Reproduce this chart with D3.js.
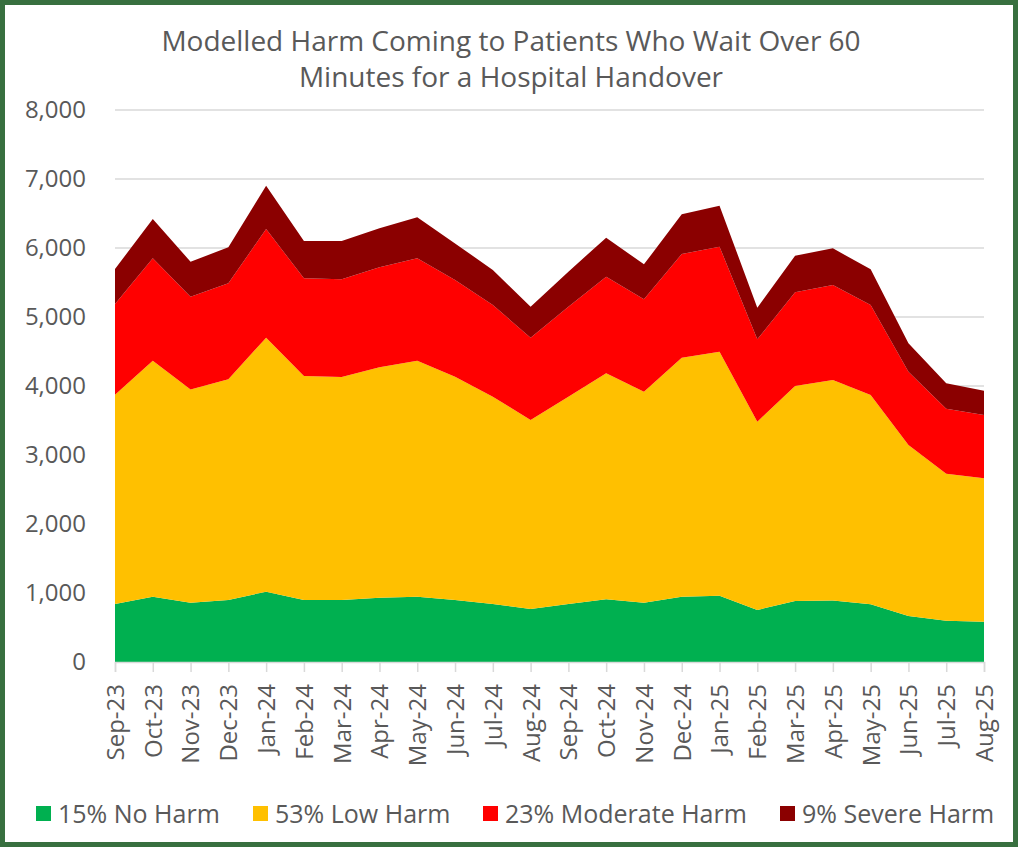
<!DOCTYPE html>
<html>
<head>
<meta charset="utf-8">
<script src="https://cdn.jsdelivr.net/npm/d3@7"></script>
<style>
  html, body { margin: 0; padding: 0; background: #ffffff; }
  svg { display: block; }
  text { font-family: "Open Sans", "Noto Sans", sans-serif; fill: #595959; }
</style>
</head>
<body>
<svg id="chart" width="1022" height="848"></svg>
<script>
// Months on the x axis
const months = ["Sep-23","Oct-23","Nov-23","Dec-23","Jan-24","Feb-24","Mar-24","Apr-24","May-24","Jun-24","Jul-24","Aug-24",
                "Sep-24","Oct-24","Nov-24","Dec-24","Jan-25","Feb-25","Mar-25","Apr-25","May-25","Jun-25","Jul-25","Aug-25"];

// Modelled patients per harm category
const noHarm       = [841, 946, 859, 899, 1019, 899, 899, 932, 946, 899, 841, 768, 841, 908, 859, 946, 961, 754, 884, 893, 836, 667, 599, 584];
const lowHarm      = [3033, 3421, 3092, 3198, 3681, 3246, 3231, 3339, 3421, 3236, 3004, 2739, 3004, 3275, 3058, 3465, 3536, 2729, 3116, 3194, 3034, 2478, 2131, 2078];
const moderateHarm = [1314, 1483, 1344, 1391, 1575, 1415, 1416, 1449, 1483, 1401, 1329, 1193, 1305, 1402, 1339, 1502, 1522, 1193, 1358, 1377, 1304, 1063, 941, 918];
const severeHarm   = [508, 570, 506, 522, 628, 541, 555, 565, 595, 531, 507, 450, 507, 565, 507, 575, 594, 459, 531, 531, 517, 410, 368, 352];

const seriesNames  = ["15% No Harm", "53% Low Harm", "23% Moderate Harm", "9% Severe Harm"];
const seriesColors = ["#00B050", "#FFC000", "#FF0000", "#8B0000"];
const yTicks = [0, 1000, 2000, 3000, 4000, 5000, 6000, 7000, 8000];

const rows = months.map((m, i) => ({
  month: m,
  s0: noHarm[i], s1: lowHarm[i], s2: moderateHarm[i], s3: severeHarm[i]
}));

const svg = d3.select("#chart");
const plot = { left: 115, right: 984, top: 110, bottom: 662 };

// Outer frame
svg.append("rect")
  .attr("x", 2.5).attr("y", 2.5)
  .attr("width", 1013).attr("height", 842)
  .attr("fill", "#ffffff")
  .attr("stroke", "#38703F").attr("stroke-width", 5);

// Title
const title = svg.append("text")
  .attr("text-anchor", "middle")
  .attr("font-size", 28);
title.append("tspan").attr("x", 511).attr("y", 51).text("Modelled Harm Coming to Patients Who Wait Over 60");
title.append("tspan").attr("x", 511).attr("y", 87).text("Minutes for a Hospital Handover");

const x = d3.scalePoint().domain(months).range([plot.left, plot.right]);
const y = d3.scaleLinear().domain([0, 8000]).range([plot.bottom, plot.top]);

// Gridlines
svg.append("g")
  .selectAll("line")
  .data(yTicks.filter(t => t > 0))
  .join("line")
  .attr("x1", plot.left).attr("x2", plot.right)
  .attr("y1", d => y(d)).attr("y2", d => y(d))
  .attr("stroke", "#d9d9d9").attr("stroke-width", 1.5);

// Stacked areas
const keys = ["s0", "s1", "s2", "s3"];
const stacked = d3.stack().keys(keys)(rows);
const area = d3.area()
  .x(d => x(d.data.month))
  .y0(d => y(d[0]))
  .y1(d => y(d[1]));

svg.append("g")
  .selectAll("path")
  .data(stacked)
  .join("path")
  .attr("d", area)
  .attr("fill", (d, i) => seriesColors[i]);

// Y axis
const yAxis = d3.axisLeft(y)
  .tickValues(yTicks)
  .tickFormat(d3.format(","))
  .tickSize(0)
  .tickPadding(0);
const yg = svg.append("g")
  .attr("transform", `translate(${plot.left - 29},0)`)
  .call(yAxis);
yg.select(".domain").remove();
yg.selectAll("text")
  .attr("font-size", 24)
  .attr("fill", "#595959")
  .attr("font-family", "'Open Sans', sans-serif");

// X axis
const xAxis = d3.axisBottom(x).tickSize(10).tickPadding(6);
const xg = svg.append("g")
  .attr("transform", `translate(0,${plot.bottom})`)
  .call(xAxis);
xg.select(".domain").attr("stroke", "#d9d9d9").attr("stroke-width", 1.5);
xg.selectAll(".tick line").attr("stroke", "#d9d9d9").attr("stroke-width", 1.5);
xg.selectAll("text")
  .attr("font-size", 24)
  .attr("fill", "#595959")
  .attr("font-family", "'Open Sans', sans-serif")
  .attr("transform", "rotate(-90)")
  .attr("text-anchor", "end")
  .attr("x", -22)
  .attr("y", 0)
  .attr("dy", "0.35em");

// Legend
const legendX = [36, 253, 483, 780];
const lg = svg.append("g");
seriesNames.forEach((name, i) => {
  lg.append("rect")
    .attr("x", legendX[i]).attr("y", 806)
    .attr("width", 15).attr("height", 15)
    .attr("fill", seriesColors[i]);
  lg.append("text")
    .attr("x", legendX[i] + 22).attr("y", 823)
    .attr("font-size", 25)
    .text(name);
});
</script>
</body>
</html>
